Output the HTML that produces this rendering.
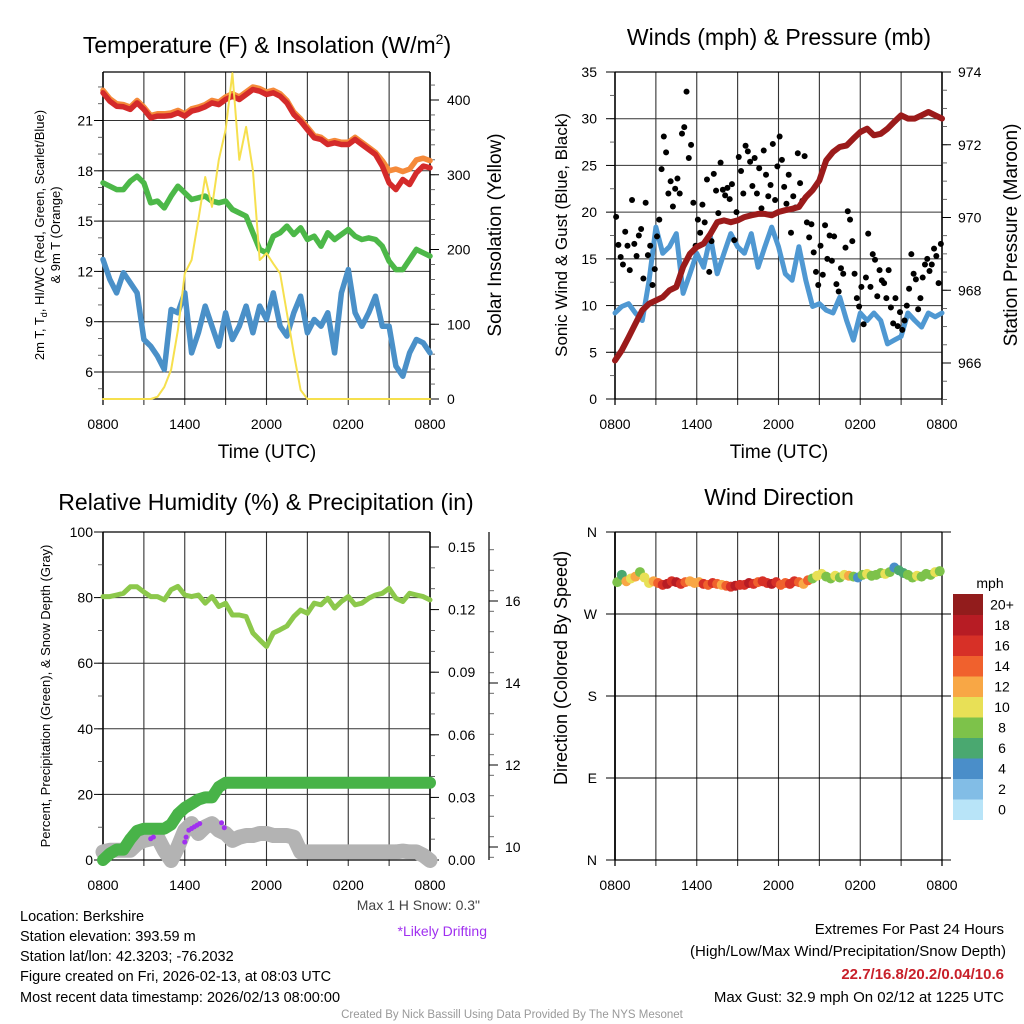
<!DOCTYPE html>
<html><head><meta charset="utf-8"><style>
html,body{margin:0;padding:0;background:#fff;}
svg{display:block;font-family:"Liberation Sans",sans-serif;}
</style></head><body>
<svg id="fig" width="1024" height="1024" viewBox="0 0 1024 1024" xmlns="http://www.w3.org/2000/svg">
<rect width="1024" height="1024" fill="#fff"/>
<text x="267" y="53" font-size="23" text-anchor="middle">Temperature (F) &amp; Insolation (W/m<tspan dy="-9" font-size="14">2</tspan><tspan dy="9">)</tspan></text>
<text x="779" y="45" font-size="23" text-anchor="middle">Winds (mph) &amp; Pressure (mb)</text>
<text x="266" y="510" font-size="23" text-anchor="middle">Relative Humidity (%) &amp; Precipitation (in)</text>
<text x="779" y="505" font-size="23" text-anchor="middle">Wind Direction</text>
<text x="267" y="458" font-size="19" text-anchor="middle">Time (UTC)</text>
<text x="779" y="458" font-size="19" text-anchor="middle">Time (UTC)</text>
<text transform="translate(44,235) rotate(-90)" font-size="13" text-anchor="middle">2m T, T<tspan dy="3" font-size="9">d</tspan><tspan dy="-3">, HI/WC (Red, Green, Scarlet/Blue)</tspan></text>
<text transform="translate(60,235) rotate(-90)" font-size="13" text-anchor="middle">&amp; 9m T (Orange)</text>
<text transform="translate(501,235) rotate(-90)" font-size="19" text-anchor="middle">Solar Insolation (Yellow)</text>
<text transform="translate(567,235) rotate(-90)" font-size="17" text-anchor="middle">Sonic Wind &amp; Gust (Blue, Black)</text>
<text transform="translate(1017,235) rotate(-90)" font-size="19" text-anchor="middle">Station Pressure (Maroon)</text>
<text transform="translate(50,696) rotate(-90)" font-size="13" text-anchor="middle">Percent, Precipitation (Green), &amp; Snow Depth (Gray)</text>
<text transform="translate(567,668) rotate(-90)" font-size="18" text-anchor="middle">Direction (Colored By Speed)</text>
<text x="990" y="588" font-size="14" text-anchor="middle">mph</text>
<text x="480" y="910" font-size="14" fill="#444" text-anchor="end">Max 1 H Snow: 0.3"</text>
<text x="487" y="936" font-size="14" fill="#a030f0" text-anchor="end">*Likely Drifting</text>
<g font-size="14.5">
<text x="20" y="921">Location: Berkshire</text>
<text x="20" y="941">Station elevation: 393.59 m</text>
<text x="20" y="961">Station lat/lon: 42.3203; -76.2032</text>
<text x="20" y="981">Figure created on Fri, 2026-02-13, at 08:03 UTC</text>
<text x="20" y="1002">Most recent data timestamp: 2026/02/13 08:00:00</text>
</g>
<g font-size="15" text-anchor="end">
<text x="1004" y="934">Extremes For Past 24 Hours</text>
<text x="1006" y="956">(High/Low/Max Wind/Precipitation/Snow Depth)</text>
<text x="1004" y="979" fill="#c8202a" font-weight="bold">22.7/16.8/20.2/0.04/10.6</text>
<text x="1004" y="1002">Max Gust: 32.9 mph On 02/12 at 1225 UTC</text>
</g>
<text x="512" y="1018" font-size="11.5" fill="#999" text-anchor="middle">Created By Nick Bassill Using Data Provided By The NYS Mesonet</text>
<g id="marks"></g>
</svg>
<script>
const timeTickHours = [0,3,6,9,12,15,18,21,24];
const timeLabels = ['0800','1400','2000','0200','0800'];
const timeLabelHours = [0,6,12,18,24];
const stepHours = 0.5;
const tempRed = [22.65,22.15,21.85,21.82,21.66,22.05,21.66,21.16,21.26,21.26,21.30,21.46,21.26,21.56,21.66,21.82,22.05,21.95,22.25,22.45,22.25,22.55,22.85,22.75,22.55,22.65,22.45,22.05,21.36,20.96,20.46,19.97,19.87,19.57,19.67,19.57,19.57,19.87,19.57,19.27,18.97,18.28,17.28,16.88,17.48,17.18,17.88,18.28,18.18];
const tempOrange = [22.8,22.3,22.0,21.95,21.8,22.2,21.8,21.3,21.4,21.4,21.45,21.6,21.4,21.7,21.8,21.95,22.2,22.1,22.4,22.6,22.4,22.7,23.0,22.9,22.7,22.8,22.6,22.2,21.5,21.1,20.6,20.1,20.0,19.7,19.8,19.7,19.7,20.0,19.7,19.4,19.1,18.6,18.0,18.1,17.95,18.1,18.65,18.75,18.6];
const dewGreen = [17.28,17.08,16.88,16.88,17.38,17.68,17.28,16.09,16.19,15.79,16.49,17.08,16.69,16.29,16.39,16.49,16.19,16.09,16.19,15.69,15.49,15.29,14.30,13.31,13.11,14.10,14.30,14.70,14.20,14.60,13.90,14.10,13.50,14.30,13.90,14.20,14.50,14.10,13.90,14.00,13.90,13.50,12.61,12.11,12.11,12.71,13.31,13.11,12.91];
const windChillBlue = [12.71,11.52,10.72,11.92,11.32,10.72,7.94,7.54,6.94,6.15,9.73,9.53,10.72,7.14,8.34,9.93,8.73,7.54,9.53,7.94,8.73,9.93,8.34,9.93,9.13,10.72,8.73,8.14,9.53,10.52,8.34,9.13,8.73,9.53,7.14,10.72,12.11,9.53,8.73,9.53,10.52,8.73,8.73,6.35,5.75,7.14,7.94,7.74,7.14];
const solar = [0,0,0,0,0,0,0,0,3,16,39,92,168,186,240,297,257,320,360,436,320,364,306,186,195,181,168,115,61,12,0,0,0,0,0,0,0,0,0,0,0,0,0,0,0,0,0,0,0];
const tempTicks = [6,9,12,15,18,21];
const solarTicks = [0,100,200,300,400];
const windSpeed = [9.2,9.9,10.2,9.2,8.4,12.7,18.4,15.6,16.3,17.7,11.3,13.4,15.6,14.1,17.4,13.4,15.6,17.7,16.3,15.6,17.7,14.1,16.3,18.4,16.3,13.4,12.7,16.3,12.7,9.9,10.2,9.5,9.2,10.9,8.4,6.3,9.2,8.4,9.2,8.4,5.9,6.3,6.7,9.2,8.4,7.7,9.2,8.8,9.2];
const pressure = [966.07,966.35,966.71,967.08,967.45,967.63,967.72,967.81,968.0,968.09,968.64,969.0,969.19,969.28,969.55,969.87,969.92,969.87,969.92,970.01,970.06,970.1,970.1,970.06,970.15,970.2,970.24,970.29,970.56,970.75,971.02,971.57,971.8,971.94,971.98,972.17,972.35,972.44,972.26,972.3,972.44,972.63,972.81,972.72,972.72,972.81,972.9,972.81,972.72];
const gusts = [19.5,16.5,15.2,14.4,17.9,16.4, 13.8,21.3,16.6,15.3,17.5,18.2, 12.9,21.0,15.4,16.4,12.2,13.9, 17.4,19.2,24.6,28.1,26.4,22.0, 23.3,20.6,22.5,23.6,22.0,28.4, 29.1,32.9,25.8,27.2,21.0,16.4, 19.2,17.8,20.8,18.9,23.5,13.6, 16.9,24.1,22.3,19.9,25.3,22.4, 21.8,22.6,21.4,23.0,17.0,20.0, 25.9,24.4,22.0,27.1,26.5,25.4, 22.8,25.8,22.0,24.7,20.4,26.6, 24.0,21.7,22.9,27.3,21.3,24.9, 28.1,25.6,22.7,20.9,24.0,17.8, 21.7,20.5,26.3,23.1,21.2,26.0, 18.9,17.3,18.7,15.7,13.6,12.2, 16.4,13.3,18.6,15.0,17.5,14.8, 17.4,12.3,11.5,14.0,13.4,16.2, 20.1,19.2,16.9,13.4,10.8,9.9, 12.0,8.0,13.0,17.7,12.0,15.5, 14.9,11.0,13.8,12.7,12.4,10.8, 13.8,9.8,8.1,10.8,7.8,9.3, 7.4,8.4,10.0,11.8,15.5,13.4, 12.8,9.6,10.8,13.0,14.4,15.0, 13.7,14.4,16.1,15.3,12.4,16.6];
const windTicks = [0,5,10,15,20,25,30,35];
const pressTicks = [966,968,970,972,974];
const rh = [80.3,80.3,80.8,81.3,83.3,83.3,81.7,80.3,80.3,79.3,82.4,83.4,80.8,80.3,80.8,78.3,80.3,77.3,78.3,74.7,74.7,74.2,69.2,67.1,65.1,69.2,70.2,71.3,74.2,76.2,75.2,78.3,77.8,79.8,76.8,78.8,80.3,77.8,78.3,79.8,80.8,81.3,82.8,79.8,78.8,81.3,80.8,80.3,79.3];
const precip = [0,0.003,0.005,0.005,0.01,0.014,0.015,0.015,0.015,0.015,0.017,0.022,0.025,0.027,0.029,0.03,0.03,0.035,0.037,0.037,0.037,0.037,0.037,0.037,0.037,0.037,0.037,0.037,0.037,0.037,0.037,0.037,0.037,0.037,0.037,0.037,0.037,0.037,0.037,0.037,0.037,0.037,0.037,0.037,0.037,0.037,0.037,0.037,0.037];
const snowDepth = [9.88,9.92,9.92,9.92,9.92,10.08,10.16,10.2,10.24,9.92,9.67,10.0,10.41,10.57,10.33,10.49,10.57,10.41,10.33,10.16,10.24,10.28,10.28,10.33,10.33,10.28,10.28,10.28,10.24,9.88,9.88,9.88,9.88,9.88,9.88,9.88,9.88,9.88,9.88,9.88,9.88,9.88,9.88,9.88,9.9,9.88,9.88,9.8,9.67];
const driftHours = [3.5,3.7,6.0,6.1,6.3,6.5,6.7,6.9,7.1,8.7,8.9];
const driftSnow = [10.2,10.24,10.12,10.24,10.41,10.45,10.49,10.53,10.57,10.59,10.47];
const rhTicks = [0,20,40,60,80,100];
const precipTicks = ['0.00','0.03','0.06','0.09','0.12','0.15'];
const snowTicks = [10,12,14,16];
const dirDeg = [305,313,306,309,311,316,310,304,306, 304,302,303,306,305,303,305,306,304,305,303,302, 304,303,302,301,300,301,302,302,304,303,305,306, 304,303,305,302,304,303,306,305,303,307,309,312, 314,311,309,312,310,313,312,311,310,313,314,312, 313,315,314,316,321,318,315,313,310,312,311,314,313,316,317];
const dirSpeed = [8,7,12,10,12,8,10,10,12, 14,16,18,17,19,16,14,12,12,13,16,14, 16,14,12,15,16,18,17,17,18,16,15,16, 17,18,16,15,14,16,17,14,12,14,8,10, 10,8,8,11,8,10,12,8,4,8,10,8, 9,8,10,8,4,6,6,8,8,10,8,8,9,10,8];
const dirTickDeg = [0,90,180,270,360];
const dirTickLabels = ['N','E','S','W','N'];
const cbLabels = ['0','2','4','6','8','10','12','14','16','18','20+'];
const cbColors = ['#b8e4f8','#82bde6','#4a8ec9','#4aa870','#7dc24a','#e8e056','#f8a745','#f0612d','#d73027','#b71c24','#921c1c'];

const NS = 'http://www.w3.org/2000/svg';
const root = document.getElementById('marks');
function mk(tag, attrs, parent) {
  const e = document.createElementNS(NS, tag);
  for (const k in attrs) e.setAttribute(k, attrs[k]);
  (parent || root).appendChild(e);
  return e;
}
function lin(d0, d1, r0, r1) { return v => r0 + (v - d0) / (d1 - d0) * (r1 - r0); }
function pathFrom(arr, xs, ys, step) {
  return arr.map((v, i) => (i ? 'L' : 'M') + xs(i * step).toFixed(1) + ',' + ys(v).toFixed(1)).join('');
}
const L = {x0:103, x1:430}, R = {x0:615, x1:942};
const T = {y0:72, y1:399}, B = {y0:532, y1:860};

function frame(P, Y, hTicksY, name, labelDy) {
  const xs = lin(0, 24, P.x0, P.x1);
  const g = mk('g', {});
  
  
  timeTickHours.forEach(h => {
    const ln = mk('line', {x1:xs(h), x2:xs(h), y1:Y.y0, y2:Y.y1 + 6, stroke:'#333', 'stroke-width':(h===0||h===24)?1.6:1.1}, g);
    
    
  });
  hTicksY.forEach(y => {
    const ln = mk('line', {x1:P.x0, x2:P.x1, y1:y, y2:y, stroke:'#333', 'stroke-width':1}, g);
    
    
  });
  const top = mk('line', {x1:P.x0, x2:P.x1, y1:Y.y0, y2:Y.y0, stroke:'#000', 'stroke-width':1.2}, g);
  
  
  const bot = mk('line', {x1:P.x0, x2:P.x1, y1:Y.y1, y2:Y.y1, stroke:'#000', 'stroke-width':1.2}, g);
  
  
  timeLabels.forEach((t, i) => {
    const tx = mk('text', {x:xs(timeLabelHours[i]), y:Y.y1 + labelDy, 'font-size':14, 'text-anchor':'middle'}, g);
    tx.textContent = t;
    
    
  });
  return xs;
}
function yAxis(x, Y, side, ticks, labels, ys, minors, name, labelX) {
  const g = mk('g', {});
  
  
  const ax = mk('line', {x1:x, x2:x, y1:Y.y0, y2:Y.y1, stroke:'#000', 'stroke-width':1.2}, g);
  
  
  const d = side === 'left' ? -1 : 1;
  minors.forEach(v => {
    const y = ys(v);
    if (y < Y.y0 - 0.5 || y > Y.y1 + 0.5) return;
    const t = mk('line', {x1:x, x2:x + d*5, y1:y, y2:y, stroke:'#444', 'stroke-width':0.8}, g);
    
    
  });
  ticks.forEach((v, i) => {
    const y = ys(v);
    const t = mk('line', {x1:x, x2:x + d*9, y1:y, y2:y, stroke:'#000', 'stroke-width':1}, g);
    
    
    const tx = mk('text', {x:labelX, y:y + 5, 'font-size':14, 'text-anchor': side === 'left' ? 'end' : 'start'}, g);
    tx.textContent = labels[i];
    
    
  });
}
function range(a, b, s) { const r = []; for (let v = a; v <= b + 1e-9; v += s) r.push(+v.toFixed(4)); return r; }
function line(arr, xs, ys, color, w, name) {
  const p = mk('path', {d:pathFrom(arr, xs, ys, stepHours), fill:'none', stroke:color, 'stroke-width':w, 'stroke-linejoin':'round', 'stroke-linecap':'round'});
  
  
  return p;
}

{
  const yT = lin(6, 9, 372, 321.7);
  const yS = lin(0, 400, T.y1, 100);
  const xs = frame(L, T, tempTicks.map(yT), 'temperature', 30);
  yAxis(L.x0, T, 'left', tempTicks, tempTicks.map(String), yT, range(5, 23, 1), 'temperature-y-axis', 93);
  yAxis(L.x1, T, 'right', solarTicks, solarTicks.map(String), yS, range(0, 430, 20), 'solar-y-axis', 447);
  line(tempOrange, xs, yT, '#f58a3a', 5.5, 'temperature-9m-line');
  line(tempRed, xs, yT, '#d42a2a', 5.5, 'temperature-2m-line');
  line(dewGreen, xs, yT, '#4cb848', 5.5, 'dewpoint-line');
  line(windChillBlue, xs, yT, '#4a90c8', 5.5, 'wind-chill-line');
  line(solar, xs, yS, '#f6e04e', 2, 'solar-insolation-line');
}
{
  const yW = lin(0, 35, T.y1, T.y0);
  const yP = lin(966, 974, 363, T.y0);
  const xs = frame(R, T, windTicks.map(yW), 'wind', 30);
  yAxis(R.x0, T, 'left', windTicks, windTicks.map(String), yW, range(0, 35, 2.5), 'wind-y-axis', 597);
  yAxis(R.x1, T, 'right', pressTicks, pressTicks.map(String), yP, range(965, 974, 0.5), 'pressure-y-axis', 958);
  line(windSpeed, xs, yW, '#4f98d2', 5, 'sonic-wind-line');
  const g = mk('g', {});
  
  
  gusts.forEach((v, i) => {
    const c = mk('circle', {cx:xs(i / 6 + 1 / 12), cy:yW(v), r:3, fill:'#000'}, g);
    
    
  });
  line(pressure, xs, yP, '#9b1b1b', 6, 'pressure-line');
}
{
  const yR = lin(0, 100, B.y1, B.y0);
  const yPr = lin(0, 0.15, B.y1, 547);
  const ySd = lin(10, 16, 847, 601);
  const xs = frame(L, B, rhTicks.map(yR), 'humidity', 30);
  yAxis(L.x0, B, 'left', rhTicks, rhTicks.map(String), yR, range(0, 100, 10), 'humidity-y-axis', 93);
  yAxis(L.x1, B, 'right', precipTicks.map(Number), precipTicks, yPr, range(0, 0.156, 0.01), 'precip-y-axis', 448);
  yAxis(489, B, 'right', snowTicks, snowTicks.map(String), ySd, range(9.75, 17.5, 0.5), 'snow-depth-y-axis', 505);
  line(snowDepth, xs, ySd, '#b3b3b3', 15, 'snow-depth-line');
  line(precip, xs, yPr, '#48b348', 12, 'precipitation-line');
  line(rh, xs, yR, '#8cc84b', 5, 'relative-humidity-line');
  const g = mk('g', {});
  
  
  driftHours.forEach((h, i) => {
    const c = mk('circle', {cx:xs(h), cy:ySd(driftSnow[i]), r:2.5, fill:'#a030f0'}, g);
    
    
  });
}
{
  const yD = lin(0, 360, B.y1, B.y0);
  const xs = frame(R, B, dirTickDeg.map(yD), 'direction', 30);
  const g0 = mk('g', {});
  
  
  const ax = mk('line', {x1:R.x0, x2:R.x0, y1:B.y0, y2:B.y1, stroke:'#000', 'stroke-width':1.6}, g0);
  
  
  dirTickDeg.forEach((d, i) => {
    const y = yD(d);
    const t = mk('line', {x1:R.x0 - 9, x2:R.x1 + 9, y1:y, y2:y, stroke:'#000', 'stroke-width':1}, g0);
    
    
    const tx = mk('text', {x:597, y:y + 5, 'font-size':14, 'text-anchor':'end'}, g0);
    tx.textContent = dirTickLabels[i];
    
    
  });
  const g = mk('g', {});
  
  
  dirDeg.forEach((d, i) => {
    const ci = Math.min(10, Math.floor(dirSpeed[i] / 2));
    const c = mk('circle', {cx:xs(i / 3 + 1 / 6), cy:yD(d), r:5, fill:cbColors[ci]}, g);
    
    
  });
  const cb = mk('g', {});
  
  
  const cbTop = 594, cbH = 20.5;
  cbColors.forEach((col, i) => {
    const k = cbColors.length - 1 - i;
    const r = mk('rect', {x:953, y:cbTop + k * cbH, width:30, height:cbH + 0.5, fill:col}, cb);
    
    
    const tx = mk('text', {x:1002, y:cbTop + k * cbH + cbH / 2 + 5, 'font-size':14, 'text-anchor':'middle'}, cb);
    tx.textContent = cbLabels[i];
    
    
  });
}
</script>
</body></html>
